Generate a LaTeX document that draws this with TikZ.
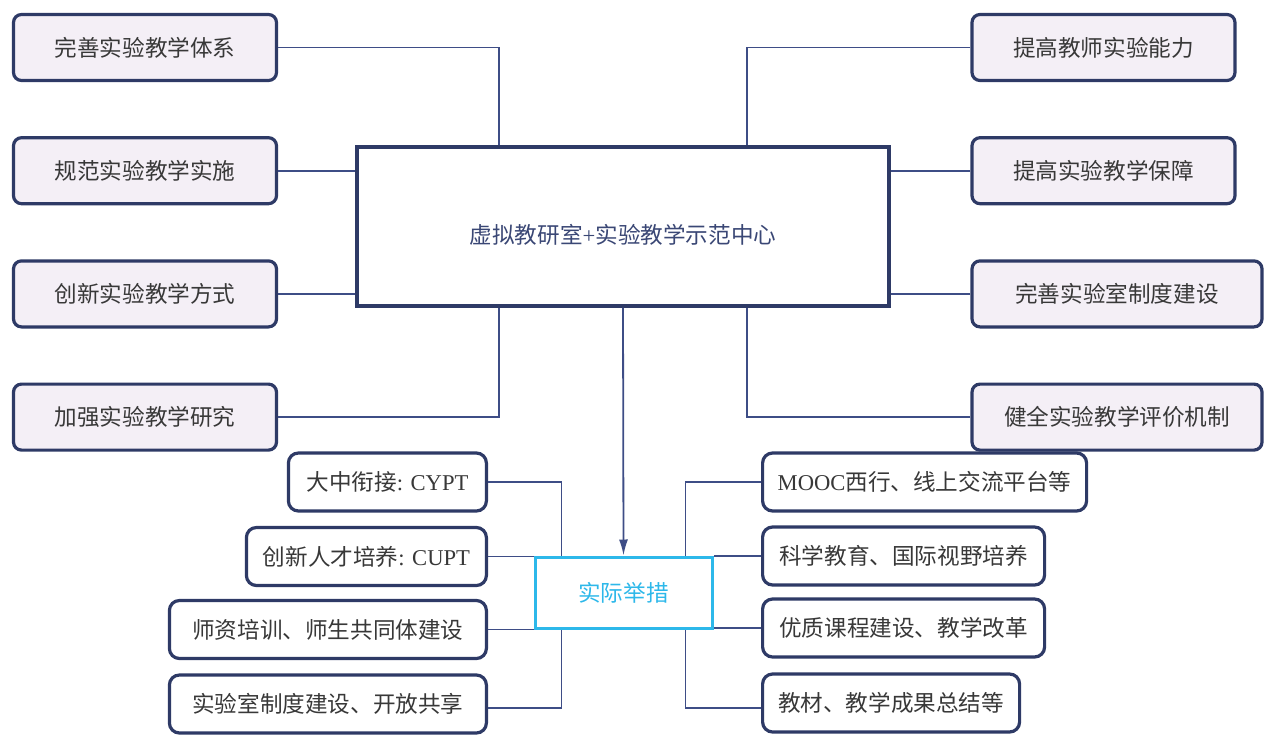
\documentclass[tikz,border=0pt]{standalone}
\usepackage{fontspec}
\setmainfont{Liberation Serif}
\newfontfamily\cjk{Noto Sans CJK SC}
\usepackage{tikz}
\usetikzlibrary{arrows.meta,positioning}
\definecolor{navy}{HTML}{2E3A66}
\definecolor{linkblue}{HTML}{3E4D86}
\definecolor{lilac}{HTML}{F4EFF6}
\definecolor{actcyan}{HTML}{2DB8EA}
\definecolor{txtgray}{HTML}{383838}
\definecolor{hubtext}{HTML}{3A4775}

\begin{document}
\begin{tikzpicture}[
  x=0.5pt, y=-0.5pt,
  node distance=27pt,
  goal/.style={
    rectangle,
    draw=navy,
    line width=1.6pt,
    fill=lilac,
    rounded corners=4pt,
    minimum width=131.5pt,
    minimum height=33pt,
    text=txtgray,
    font=\cjk\fontsize{11.3pt}{13pt}\selectfont
  },
  hubbox/.style={
    rectangle,
    draw=navy,
    line width=1.8pt,
    fill=white,
    minimum width=266pt,
    minimum height=79.5pt,
    text=hubtext,
    font=\cjk\fontsize{11.3pt}{13pt}\selectfont
  },
  actbox/.style={
    rectangle,
    draw=actcyan,
    line width=1.5pt,
    fill=white,
    minimum width=88.5pt,
    minimum height=35.5pt,
    text=actcyan,
    font=\cjk\fontsize{11.3pt}{13pt}\selectfont
  },
  item/.style={
    rectangle,
    draw=navy,
    line width=1.6pt,
    fill=white,
    rounded corners=5pt,
    minimum height=29pt,
    text=txtgray,
    font=\cjk\fontsize{11.3pt}{13pt}\selectfont
  },
  link/.style={draw=linkblue, line width=0.9pt},
  arr/.style={link, -{Latex[length=8pt,width=4.5pt]}}
]
\useasboundingbox (0,0) rectangle (1269,738);

\node[hubbox] (hub) at (623,226.5) {\raisebox{-4pt}[\height][\depth]{虚拟教研室\textrm{+}实验教学示范中心}};

\node[goal] (lt1) at (145,47.5) {完善实验教学体系};
\node[goal, below=of lt1] (lt2) {规范实验教学实施};
\node[goal, below=of lt2] (lt3) {创新实验教学方式};
\node[goal, below=of lt3] (lt4) {加强实验教学研究};

\node[goal] (rt1) at (1103.5,47.5) {提高教师实验能力};
\node[goal, below=of rt1] (rt2) {提高实验教学保障};
\node[goal, minimum width=145pt, below=of rt2.south west, anchor=north west] (rt3) {完善实验室制度建设};
\node[goal, minimum width=145pt, below=of rt3] (rt4) {健全实验教学评价机制};

\node[actbox] (act) at (623.5,592.5) {实际举措};

\node[item, minimum width=99pt, anchor=east] (b1) at (488,482) {大中衔接\textrm{: CYPT}};
\node[item, minimum width=120pt, anchor=east] (b2) at (488,556.5) {创新人才培养\textrm{: CUPT}};
\node[item, minimum width=158.5pt, anchor=east] (b3) at (488,629.5) {师资培训、师生共同体建设};
\node[item, minimum width=158.5pt, anchor=east] (b4) at (488,704) {实验室制度建设、开放共享};

\node[item, minimum width=162pt, anchor=west] (r1) at (761,482) {\textrm{MOOC}西行、线上交流平台等};
\node[item, minimum width=141pt, anchor=west] (r2) at (761,556) {科学教育、国际视野培养};
\node[item, minimum width=141pt, anchor=west] (r3) at (761,628) {优质课程建设、教学改革};
\node[item, minimum width=128.5pt, anchor=west] (r4) at (761,703) {教材、教学成果总结等};

\draw[link] (lt1.east) -| ([xshift=-62pt]hub.north);
\draw[link] (lt2.east) -- (lt2.east -| hub.west);
\draw[link] (lt3.east) -- (lt3.east -| hub.west);
\draw[link] (lt4.east) -| ([xshift=-62pt]hub.south);
\draw[link] (rt1.west) -| ([xshift=62pt]hub.north);
\draw[link] (rt2.west) -- (rt2.west -| hub.east);
\draw[link] (rt3.west) -- (rt3.west -| hub.east);
\draw[link] (rt4.west) -| ([xshift=62pt]hub.south);

\draw[arr] (hub.south) -- (act.north);

\draw[link] (b1.east) -| ([xshift=-31pt]act.north);
\draw[link] (b2.east) -- (b2.east -| act.west);
\draw[link] (b3.east) -- (b3.east -| act.west);
\draw[link] ([yshift=-2pt]b4.east) -| ([xshift=-31pt]act.south);
\draw[link] (r1.west) -| ([xshift=31pt]act.north);
\draw[link] (r2.west) -- (r2.west -| act.east);
\draw[link] (r3.west) -- (r3.west -| act.east);
\draw[link] ([yshift=-2.5pt]r4.west) -| ([xshift=31pt]act.south);
\end{tikzpicture}
\end{document}
